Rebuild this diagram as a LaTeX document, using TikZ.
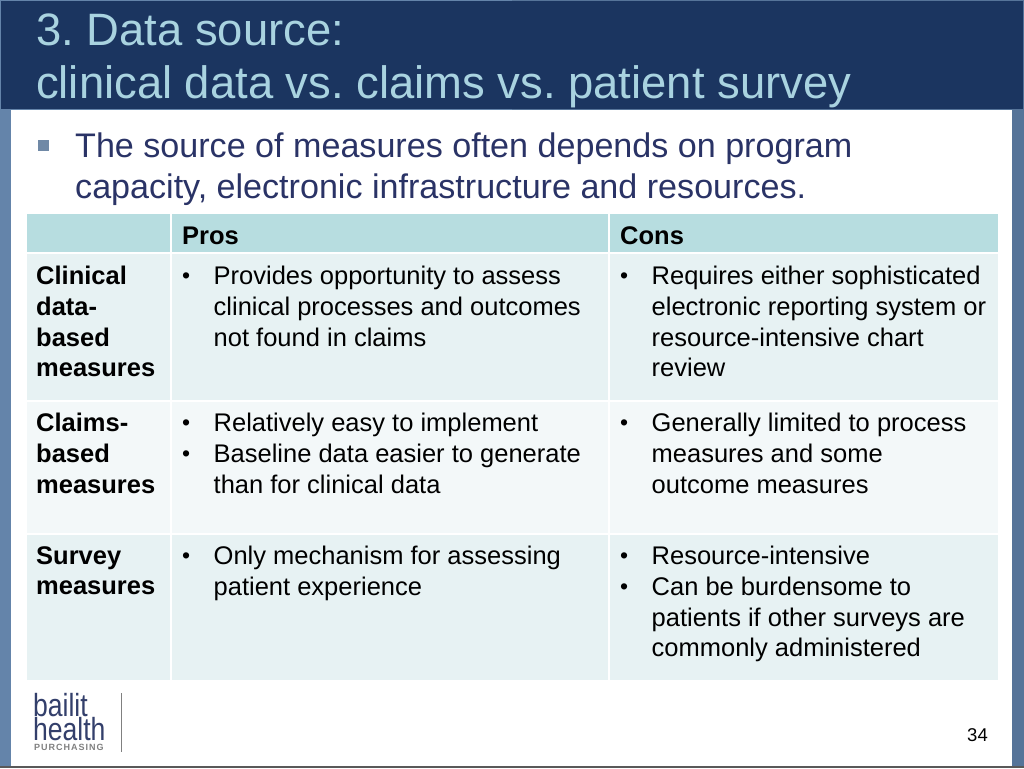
\documentclass[tikz,border=0pt]{standalone}
\usepackage{fontspec}
\setmainfont{Liberation Sans}
\definecolor{navy}{HTML}{1B3560}
\definecolor{barleft}{HTML}{6484AA}
\definecolor{barright}{HTML}{567499}
\definecolor{titleblue}{HTML}{A9D3E0}
\definecolor{bodyblue}{HTML}{2A3366}
\definecolor{bulletblue}{HTML}{7089A6}
\definecolor{headcell}{HTML}{B7DDE0}
\definecolor{darkcell}{HTML}{E7F2F3}
\definecolor{lightcell}{HTML}{F3F8F9}
\definecolor{logoblue}{HTML}{333F6B}
\newcommand{\itemline}{\makebox[31.5pt][l]{\fontsize{23}{23}\selectfont\raisebox{0.8pt}{•}}}
\newcommand{\contline}{\hspace*{31.5pt}}
\tikzset{
    celltext/.style={anchor=north west, inner sep=0pt, align=left, text=black,
        font=\fontsize{25.5}{30.7}\selectfont},
    headtext/.style={celltext, font=\fontsize{25.5}{30.7}\selectfont\bfseries},
    titletext/.style={anchor=north west, inner sep=0pt, align=left, text=titleblue,
        font=\fontsize{45.4}{53}\selectfont},
    bodytext/.style={anchor=north west, inner sep=0pt, align=left, text=bodyblue,
        font=\fontsize{34.1}{41}\selectfont},
    logotext/.style={anchor=north west, inner sep=0pt, align=left, text=logoblue,
        xscale=0.83, transform shape, font=\fontsize{32}{24}\selectfont},
}
\begin{document}
\frenchspacing
\begin{tikzpicture}[x=1pt,y=1pt]
    \useasboundingbox (0,0) rectangle (1024,-768);

    % frame
    \fill[barleft] (0,0) rectangle (512,-768);
    \fill[barright] (512,0) rectangle (1024,-768);
    \fill[white] (11,-110) rectangle (1012,-766);
    \fill[navy] (1,-1) rectangle (1023,-109);
    \fill[gray!70!black] (0,-766) rectangle (1024,-768);

    % title and lead text
    \node[titletext] (title) at (36,-13.5) {3. Data source:\\clinical data vs. claims vs. patient survey};
    \fill[bulletblue] (38,-140) rectangle (49,-151);
    \node[bodytext] (lead) at (75,-133) {The source of measures often depends on program\\capacity, electronic infrastructure and resources.};

    % table cells
    \foreach \xa/\xb in {27/170,172/608,610/998}{
        \fill[headcell] (\xa,-214) rectangle (\xb,-252);
        \fill[darkcell] (\xa,-254) rectangle (\xb,-400);
        \fill[lightcell] (\xa,-402) rectangle (\xb,-533);
        \fill[darkcell] (\xa,-535) rectangle (\xb,-680);
    }

    % header row
    \node[headtext, anchor=base west] (pros) at (182,-244) {Pros};
    \node[headtext, anchor=base west] (cons) at (620,-244) {Cons};

    % row labels
    \node[headtext] (clinical) at (36,-266) {Clinical\\data-\\based\\measures};
    \node[headtext] (claims) at (36,-413) {Claims-\\based\\measures};
    \node[headtext] (survey) at (36,-546) {Survey\\measures};

    % pros
    \node[celltext] (prosa) at (182,-266) {\itemline Provides opportunity to assess\\\contline clinical processes and outcomes\\\contline not found in claims};
    \node[celltext] (prosb) at (182,-413) {\itemline Relatively easy to implement\\\itemline Baseline data easier to generate\\\contline than for clinical data};
    \node[celltext] (prosc) at (182,-546) {\itemline Only mechanism for assessing\\\contline patient experience};

    % cons
    \node[celltext] (consa) at (620,-266) {\itemline Requires either sophisticated\\\contline electronic reporting system or\\\contline resource-intensive chart\\\contline review};
    \node[celltext] (consb) at (620,-413) {\itemline Generally limited to process\\\contline measures and some\\\contline outcome measures};
    \node[celltext] (consc) at (620,-546) {\itemline Resource-intensive\\\itemline Can be burdensome to\\\contline patients if other surveys are\\\contline commonly administered};

    % logo
    \node[logotext] (logo) at (33,-693.5) {bailit\\health};
    \node[anchor=base west, inner sep=0pt, text=gray,
        font=\fontsize{9}{10}\selectfont\bfseries\addfontfeature{LetterSpace=11}] (purchasing) at (34,-750.5) {PURCHASING};
    \draw[gray, line width=1pt] (121.5,-693) -- (121.5,-752);

    % page number
    \node[inner sep=0pt, anchor=base east, font=\fontsize{18.5}{20}\selectfont] (page) at (988,-741) {34};
\end{tikzpicture}
\end{document}
